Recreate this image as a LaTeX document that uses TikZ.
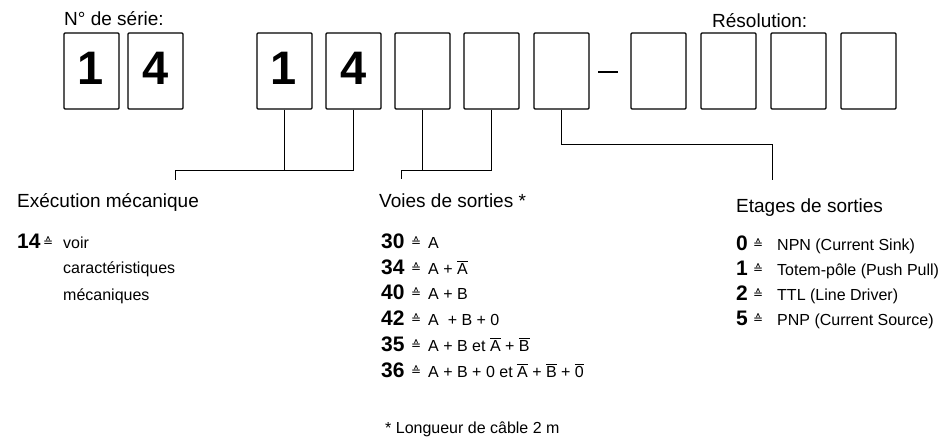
\documentclass[tikz,border=0pt]{standalone}
\usepackage{fontspec}
\setmainfont{Liberation Sans}
\newfontfamily\dvs{DejaVu Sans}
\usetikzlibrary{calc}
\newcommand\ovl[1]{\ensuremath{\overline{\mbox{#1}}}}
\begin{document}
\begin{tikzpicture}[x=1pt,y=-1pt,
  digitbox/.style={rectangle, draw, line width=1.1pt, minimum width=55pt, minimum height=76pt, inner sep=0pt, rounded corners=1pt},
  big/.style={font=\fontsize{47}{50}\selectfont\bfseries, anchor=base, inner sep=0pt},
  head/.style={font=\fontsize{19}{22}\selectfont, anchor=base west, inner sep=0pt},
  num/.style={font=\fontsize{21}{24}\selectfont\bfseries, anchor=base west, inner sep=0pt},
  eqs/.style={font=\dvs\fontsize{12}{14}\selectfont, anchor=base west, inner sep=0pt},
  txt/.style={font=\fontsize{16}{19}\selectfont, anchor=base west, inner sep=0pt},
  conn/.style={line width=0.9pt}]
\useasboundingbox (0,0) rectangle (942,442);

% boxes
\node[digitbox] (b1) at (91.5,71) {};
\node[digitbox] (b2) at (155.5,71) {};
\node[digitbox] (b3) at (284.5,71) {};
\node[digitbox] (b4) at (353.5,71) {};
\node[digitbox] (b5) at (422.5,71) {};
\node[digitbox] (b6) at (491.5,71) {};
\node[digitbox] (b7) at (561.5,71) {};
\node[digitbox] (b8) at (658.5,71) {};
\node[digitbox] (b9) at (728.5,71) {};
\node[digitbox] (b10) at (798.5,71) {};
\node[digitbox] (b11) at (868.5,71) {};

\node[big] (d1) at (91,84) {1};
\node[big] (d2) at (155.5,84) {4};
\node[big] (d3) at (284,84) {1};
\node[big] (d4) at (353.5,84) {4};

% dash
\coordinate (da) at (598,72);
\coordinate (db) at (618,72);
\draw[line width=2pt] (da) -- (db);

% titles
\node[head] (serie) at (64,25) {N° de série:};
\node[head] (resol) at (712,27) {Résolution:};

% connectors
\coordinate (h1) at (175,170);
\coordinate (e1) at (175,180);
\draw[conn] (b4.south) |- (h1) -- (e1);
\draw[conn] (b3.south) -- (b3.south |- h1);

\coordinate (h2) at (401,170);
\coordinate (e2) at (401,179);
\draw[conn] (b6.south) |- (h2) -- (e2);
\draw[conn] (b5.south) -- (b5.south |- h2);

\coordinate (h3) at (772,144);
\coordinate (e3) at (772,180);
\draw[conn] (b7.south) |- (h3) -- (e3);

% Execution mecanique
\node[head] (exh) at (17,207) {Exécution mécanique};
\node[num] (exn) at (17,248) {14};
\node[eqs] (exq) at (43,246) {≙};
\node[txt] (ext1) at (63,248) {voir};
\node[txt] (ext2) at (63,273) {caractéristiques};
\node[txt] (ext3) at (63,300) {mécaniques};

% Voies de sorties
\node[head] (voh) at (379,207) {Voies de sorties *};
\node[num] (vn1) at (381,248) {30};
\node[eqs] (vq1) at (411,246) {≙};
\node[txt] (vt1) at (428,248) {A};
\node[num] (vn2) at (381,274) {34};
\node[eqs] (vq2) at (411,272) {≙};
\node[txt] (vt2) at (428,274) {A + \ovl{A}};
\node[num] (vn3) at (381,299) {40};
\node[eqs] (vq3) at (411,297) {≙};
\node[txt] (vt3) at (428,299) {A + B};
\node[num] (vn4) at (381,325) {42};
\node[eqs] (vq4) at (411,323) {≙};
\node[txt] (vt4) at (428,325) {A\ \ + B + 0};
\node[num] (vn5) at (381,351) {35};
\node[eqs] (vq5) at (411,349) {≙};
\node[txt] (vt5) at (428,351) {A + B et \ovl{A} + \ovl{B}};
\node[num] (vn6) at (381,377) {36};
\node[eqs] (vq6) at (411,375) {≙};
\node[txt] (vt6) at (428,377) {A + B + 0 et \ovl{A} + \ovl{B} + \ovl{0}};

\node[txt] (foot) at (385,433) {* Longueur de câble 2 m};

% Etages de sorties
\node[head] (eth) at (736,212) {Etages de sorties};
\node[num] (en1) at (736,250) {0};
\node[eqs] (eq1) at (753,248) {≙};
\node[txt] (et1) at (777,250) {NPN (Current Sink)};
\node[num] (en2) at (736,275) {1};
\node[eqs] (eq2) at (753,273) {≙};
\node[txt] (et2) at (777,275) {Totem-pôle (Push Pull)};
\node[num] (en3) at (736,300) {2};
\node[eqs] (eq3) at (753,298) {≙};
\node[txt] (et3) at (777,300) {TTL (Line Driver)};
\node[num] (en4) at (736,325) {5};
\node[eqs] (eq4) at (753,323) {≙};
\node[txt] (et4) at (777,325) {PNP (Current Source)};
\end{tikzpicture}
\end{document}
